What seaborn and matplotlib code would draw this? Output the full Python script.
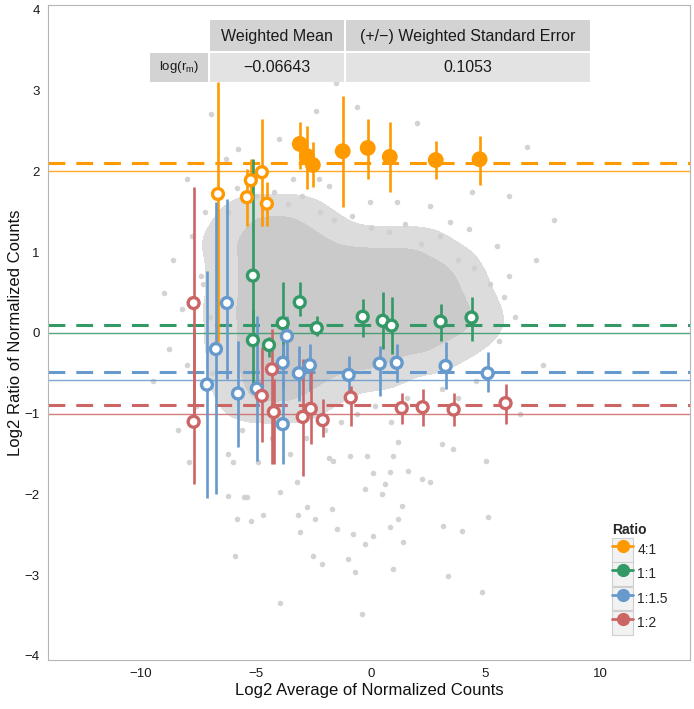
import numpy as np
import pandas as pd
import matplotlib
matplotlib.use("Agg")
import matplotlib.pyplot as plt
import seaborn as sns
from matplotlib.patches import Rectangle
from matplotlib.lines import Line2D
from matplotlib.legend_handler import HandlerTuple
from matplotlib.colors import ListedColormap

# ---------------- data ----------------
ratio_levels = ["4:1", "1:1", "1:1.5", "1:2"]
ratio_colors = ["#FF9900", "#339966", "#6699CC", "#CC6666"]
expected_log2 = [2.0, 0.0, -0.585, -1.0]
estimated_log2 = [2.1, 0.1, -0.48, -0.89]

# 4:1 spikes
r41_x = [-6.65, -5.39, -5.22, -4.74, -4.52, -3.09, -2.78, -2.52, -1.22, -0.13, 0.83, 2.83, 4.74]
r41_y = [1.72, 1.68, 1.89, 1.99, 1.60, 2.34, 2.19, 2.08, 2.25, 2.29, 2.18, 2.14, 2.15]
r41_lo = [-0.11, 1.32, 1.62, 1.32, 1.32, 2.03, 1.78, 1.81, 1.56, 1.91, 1.75, 1.91, 1.83]
r41_hi = [3.11, 2.03, 2.15, 2.65, 1.87, 2.61, 2.56, 2.36, 2.93, 2.65, 2.61, 2.38, 2.44]
r41_filled = [False, False, False, False, False, True, True, True, True, True, True, True, True]

# 1:1 spikes
r11_x = [-5.13, -3.09, -3.83, -2.35, -5.13, -4.43, -0.35, 0.52, 0.91, 3.04, 4.39]
r11_y = [0.71, 0.38, 0.12, 0.06, -0.09, -0.15, 0.20, 0.15, 0.09, 0.14, 0.19]
r11_lo = [0.05, 0.21, -0.32, -0.04, -0.66, -0.30, -0.05, -0.20, -0.26, -0.10, -0.10]
r11_hi = [2.15, 0.63, 0.63, 0.21, 0.30, -0.05, 0.42, 0.51, 0.45, 0.36, 0.45]

# 1:1.5 spikes
r115_x = [-6.26, -6.74, -7.13, -5.78, -4.96, -3.65, -3.83, -3.83, -3.13, -2.65, -0.96, 0.39, 1.13, 3.26, 5.09]
r115_y = [0.37, -0.20, -0.64, -0.75, -0.69, -0.04, -0.37, -1.13, -0.50, -0.40, -0.52, -0.38, -0.37, -0.41, -0.50]
r115_lo = [-0.57, -1.99, -2.05, -1.41, -1.58, -0.32, -0.69, -1.62, -0.84, -0.72, -0.73, -0.78, -0.61, -0.69, -0.73]
r115_hi = [1.66, 1.62, 0.77, -0.10, 0.21, 0.21, -0.14, -0.61, -0.16, -0.14, -0.28, -0.16, -0.14, -0.11, -0.24]

# 1:2 spikes
r12_x = [-7.71, -7.71, -4.30, -4.74, -4.22, -2.96, -2.61, -2.09, -0.87, 1.35, 2.26, 3.61, 5.87]
r12_y = [0.37, -1.10, -0.45, -0.78, -0.98, -1.04, -0.94, -1.08, -0.80, -0.93, -0.92, -0.95, -0.87]
r12_lo = [-1.06, -1.87, -1.62, -1.35, -1.62, -1.77, -1.37, -1.29, -1.15, -1.13, -1.15, -1.15, -1.13]
r12_hi = [1.81, 0.05, 0.05, -0.17, -0.57, -0.32, -0.45, -0.82, -0.66, -0.75, -0.69, -0.75, -0.63]

# background genes: dense core (rows of x at given y)
core_row_y = [1.5, 1.3, 1.1, 0.9, 0.7, 0.5, 0.3, 0.1, -0.1, -0.3, -0.5, -0.7, -0.9]
core_row_x = [
    [-5.6, -4.9, -4.2, -3.5, -2.8],
    [-6.1, -5.3, -4.6, -3.9, -3.2, -2.5, -1.8],
    [-6.5, -5.8, -5.1, -4.4, -3.7, -3.0, -2.3, -1.6, -0.9, -0.2, 0.5, 1.2, 1.9, 2.6],
    [-6.1, -5.4, -4.7, -4.0, -3.3, -2.6, -1.9, -1.2, -0.5, 0.2, 0.9, 1.6, 2.3, 3.0, 3.7],
    [-6.3, -5.6, -4.9, -4.2, -3.5, -2.8, -2.1, -1.4, -0.7, 0.0, 0.7, 1.4, 2.1, 2.8, 3.4, 4.1],
    [-6.1, -5.4, -4.7, -4.0, -3.3, -2.6, -1.9, -1.2, -0.5, 0.2, 0.9, 1.6, 2.3, 3.0, 3.7, 4.3],
    [-6.4, -5.7, -5.0, -4.3, -3.6, -2.9, -2.2, -1.5, -0.8, -0.1, 0.6, 1.3, 2.0, 2.7, 3.4, 4.1, 4.7],
    [-6.2, -5.5, -4.8, -4.1, -3.4, -2.7, -2.0, -1.3, -0.6, 0.1, 0.8, 1.5, 2.2, 2.9, 3.6, 4.3, 4.9],
    [-6.3, -5.6, -4.9, -4.2, -3.5, -2.8, -2.1, -1.4, -0.7, 0.0, 0.7, 1.4, 2.1, 2.8, 3.5, 4.2],
    [-6.1, -5.4, -4.7, -4.0, -3.3, -2.6, -1.9, -1.2, -0.5, 0.2, 0.9, 1.6, 2.3, 3.0],
    [-6.2, -5.5, -4.8, -4.1, -3.4, -2.7, -2.0, -1.3, -0.6, 0.1, 0.8],
    [-5.9, -5.2, -4.5, -3.8, -3.1, -2.4, -1.7],
    [-5.6, -4.9, -4.2, -3.5, -2.8],
]

# background genes: individual visible points around the core
gene_x = [-6.2, -5.8, -5.0, -4.2, -3.6, -3.0, -2.2, -1.6, -0.8, 0.0, 0.8, 1.5, 2.2, 3.0, 3.8, 4.5,
          5.2, 5.8, 6.3, 5.6, 6.0,
          -8.6, -8.2, -8.0, -7.8, -7.6, -7.4, -8.4, -7.9, -8.8, -7.2, -7.0, -6.9, -7.3,
          -6.2, -5.6, -4.9, -4.3, -3.5, -2.8, -2.0, -1.3, -0.6, 0.2, 0.9, 1.6, 2.4, 3.1,
          3.8, 4.6, 5.3, 1.2, -1.8,
          -6.95, -2.4, -0.6, -5.77, -4.0, -6.3, -2.24, -1.8, -0.04, 1.13, 2.57, 4.43,
          6.04, -3.4, 3.43, 5.5, 4.3, -1.5, 2.0, 6.8, -8.0, 8.0, 7.2, -9.0, -9.5, 7.5, 6.5,
          -6.0, -5.4, -5.8, -5.2, -4.7, -3.96, -3.2, -2.78, -3.17, -2.43, -3.09, -1.7,
          -1.48, -0.78, -0.26, 0.48, 0.61, 0.09, 0.83, 1.61, 2.22, 2.57, 1.35, 1.17, 0.83,
          0.09, -0.26, 1.39, 3.13, 3.96, 5.04, 5.09, 3.57, 3.09, -5.9, -2.52, -2.13, -1.0,
          -0.7, 0.96, 3.35, 4.83, -3.96, -0.39, -1.65, -0.91, -0.17, 0.96, -6.2, -5.5]
gene_y = [1.5, 1.8, 1.7, 1.75, 1.6, 1.7, 1.5, 1.4, 1.45, 1.3, 1.25, 1.35, 1.1, 1.2, 0.9, 0.8,
          0.6, 0.45, 0.2, -0.1, 0.7,
          0.9, 0.3, -0.4, 1.2, -0.9, 0.7, -1.2, -1.6, -0.2, 1.5, 0.2, -0.5, 0.6,
          -1.5, -1.2, -1.6, -1.3, -1.5, -1.3, -1.2, -1.1, -1.0, -0.9, -1.1, -0.8, -0.9, -0.7,
          -0.8, -0.6, -0.5, -1.35, -1.55,
          2.71, 2.75, 2.8, 2.28, 2.4, 2.15, 1.9, 1.82, 1.62, 1.62, 1.57, 1.74,
          1.7, 1.9, 1.37, 1.08, 1.29, 3.1, 2.6, 2.3, 1.9, 1.4, 0.9, 0.5, -0.6, -0.4, -1.0,
          -1.6, -2.03, -2.3, -2.33, -2.26, -1.97, -1.84, -2.15, -2.26, -2.3, -2.46, -2.18,
          -2.43, -2.49, -1.93, -1.99, -1.87, -1.74, -1.72, -1.71, -1.81, -1.84, -2.14, -2.3, -2.4,
          -2.52, -2.61, -2.59, -2.39, -2.45, -1.58, -2.28, -1.44, -1.37, -2.76, -2.76, -2.86, -2.8,
          -2.96, -2.92, -3.01, -3.21, -3.35, -3.48, -1.58, -1.52, -1.52, -1.52, -2.02, -2.03]

x_ticks = [-10, -5, 0, 5, 10]
y_ticks = [-4, -3, -2, -1, 0, 1, 2, 3, 4]
table_cols = ["Weighted Mean", "(+/\u2212) Weighted Standard Error"]
table_row = "log(r$_{\\mathregular{m}}$)"
table_vals = ["\u22120.06643", "0.1053"]

# ---------------- build tables ----------------
frames = []
for lvl, xs, ys, lo, hi, fl in [
    ("4:1", r41_x, r41_y, r41_lo, r41_hi, r41_filled),
    ("1:1", r11_x, r11_y, r11_lo, r11_hi, [False] * len(r11_x)),
    ("1:1.5", r115_x, r115_y, r115_lo, r115_hi, [False] * len(r115_x)),
    ("1:2", r12_x, r12_y, r12_lo, r12_hi, [False] * len(r12_x)),
]:
    frames.append(pd.DataFrame({"Ratio": lvl, "x": xs, "y": ys, "lo": lo, "hi": hi, "filled": fl}))
spikes = pd.concat(frames, ignore_index=True)
spikes["Ratio"] = pd.Categorical(spikes["Ratio"], categories=ratio_levels, ordered=True)
palette = dict(zip(ratio_levels, ratio_colors))

core_x = np.array([xv for row in core_row_x for xv in row], dtype=float)
core_y = np.array([yv for row, yv in zip(core_row_x, core_row_y) for _ in row], dtype=float)
genes = pd.DataFrame({"x": gene_x, "y": gene_y})

# ---------------- figure ----------------
sns.set_style("white")
plt.rcParams["font.family"] = ["Liberation Sans", "DejaVu Sans"]
plt.rcParams["mathtext.fontset"] = "custom"
plt.rcParams["mathtext.rm"] = "Liberation Sans"

W, H = 694, 709
fig = plt.figure(figsize=(W / 100, H / 100), dpi=100)
fig.patch.set_facecolor("white")
ax = fig.add_axes([48 / W, 1 - 660 / H, 642 / W, 655 / H])

# gene cloud
sns.kdeplot(x=core_x, y=core_y, fill=True, levels=[0.03, 0.3, 1.0],
            cmap=ListedColormap(["#dcdcdc", "#cacaca"]), bw_adjust=0.55, ax=ax, zorder=1)
sns.scatterplot(data=genes, x="x", y="y", color="#cfcfcf", s=16, linewidth=0,
                alpha=0.9, ax=ax, zorder=1.2, legend=False)

# reference lines
for c, e, est in zip(ratio_colors, expected_log2, estimated_log2):
    ax.axhline(e, color=c, lw=1.0, alpha=0.85, zorder=2)
    ax.axhline(est, color=c, lw=2.2, dashes=(5.5, 3.6), zorder=2.1)

# error bars
for lvl in ratio_levels:
    sub = spikes[spikes["Ratio"] == lvl]
    ax.vlines(sub["x"], sub["lo"], sub["hi"], colors=palette[lvl], lw=1.9, zorder=3)

# points
filled = spikes[spikes["filled"]]
openp = spikes[~spikes["filled"]]
sns.scatterplot(data=openp, x="x", y="y", hue="Ratio", palette=palette, s=62,
                ax=ax, legend=False, zorder=4)
coll = ax.collections[-1]
fc = coll.get_facecolors()
coll.set_edgecolors(fc)
coll.set_facecolors("white")
coll.set_linewidth(2.4)
sns.scatterplot(data=filled, x="x", y="y", hue="Ratio", palette=palette, s=130,
                linewidth=0, ax=ax, legend=False, zorder=4.1)

# axes
ax.set_xlim(-14.05, 13.9)
ax.set_ylim(-4.05, 4.06)
ax.set_xticks(x_ticks)
ax.set_yticks(y_ticks)
ax.set_xlabel("Log2 Average of Normalized Counts", fontsize=12, labelpad=2, color="#111111")
ax.set_ylabel("Log2 Ratio of Normalized Counts", fontsize=12, labelpad=1, color="#111111")
ax.tick_params(direction="out", length=4, width=0.8, color="#7f7f7f",
               labelsize=9.5, labelcolor="#1a1a1a", pad=2)
for sp in ax.spines.values():
    sp.set_color("#b5b5b5")
    sp.set_linewidth(0.8)

# legend
handles = []
for c in ratio_colors:
    box = Rectangle((0, 0), 1, 1, facecolor="#f2f2f2", edgecolor="#cfcfcf", lw=0.8)
    ln = Line2D([0], [0], color=c, lw=2.0, marker="o", markersize=8.5,
                markerfacecolor=c, markeredgecolor=c)
    handles.append((box, ln))
leg = ax.legend(handles=handles, labels=ratio_levels, title="Ratio",
                handler_map={tuple: HandlerTuple(ndivide=1, pad=0)},
                loc="lower right", bbox_to_anchor=(0.974, 0.03), frameon=False,
                fontsize=10, title_fontsize=10, handlelength=1.5, handleheight=2.25,
                labelspacing=0.05, handletextpad=0.3, borderaxespad=0, alignment="left")
leg.get_title().set_fontweight("bold")

# summary table (top)
def fbox(x0, y0, x1, y1, color):
    fig.add_artist(Rectangle((x0 / W, 1 - y1 / H), (x1 - x0) / W, (y1 - y0) / H,
                             transform=fig.transFigure, facecolor=color, edgecolor="none", zorder=5))

def ftext(x, y, s, size=11.5):
    fig.text(x / W, 1 - y / H, s, ha="center", va="center", fontsize=size, color="#1a1a1a", zorder=6)

fbox(150, 52.7, 208, 81.7, "#d3d3d3")
fbox(210, 20, 344, 50.7, "#d3d3d3")
fbox(346, 20, 590, 50.7, "#d3d3d3")
fbox(210, 52.7, 344, 81.7, "#e3e3e3")
fbox(346, 52.7, 590, 81.7, "#e3e3e3")
ftext(277, 36, table_cols[0])
ftext(468, 36, table_cols[1])
ftext(179, 67, table_row, size=9.5)
ftext(277, 67, table_vals[0])
ftext(468, 67, table_vals[1])

fig.savefig("out.png", dpi=100, facecolor="white")
